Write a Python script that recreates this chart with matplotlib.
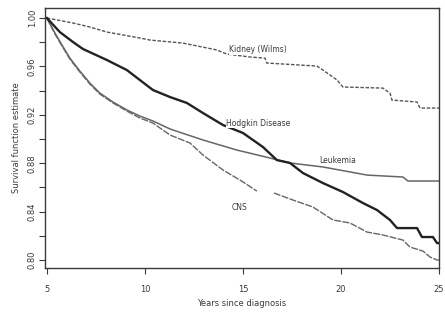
import numpy as np
import matplotlib.pyplot as plt

# survival curves (years since diagnosis, estimate)
kidney_x = [5.0, 6.33, 7.19, 8.06, 9.74, 10.26, 11.94, 13.67, 14.18, 15.36, 16.12, 16.22,
            18.78, 19.08, 19.80, 20.10, 22.14, 22.50, 22.60, 23.88, 24.03, 25.0]
kidney_y = [1.0, 0.9959, 0.9926, 0.9884, 0.9835, 0.9818, 0.9793, 0.9736, 0.9702, 0.9678, 0.9669, 0.9628,
            0.9603, 0.9570, 0.9488, 0.9430, 0.9421, 0.9380, 0.9322, 0.9306, 0.9256, 0.9256]

hodgkin_x = [5.0, 5.66, 6.33, 6.84, 8.06, 9.08, 9.74, 10.41, 11.28, 12.14, 12.96, 13.98, 15.0,
             16.02, 16.73, 17.40, 18.06, 19.08, 20.10, 21.12, 21.84, 22.50, 22.86, 23.88, 24.13,
             24.69, 24.90, 25.0]
hodgkin_y = [1.0, 0.9884, 0.9802, 0.9744, 0.9653, 0.9570, 0.9488, 0.9405, 0.9347, 0.9298, 0.9215,
             0.9116, 0.9050, 0.8934, 0.8826, 0.8802, 0.8719, 0.8636, 0.8562, 0.8471, 0.8413, 0.8331,
             0.8264, 0.8264, 0.8190, 0.8190, 0.8140, 0.8140]

leuk_x = [5.0, 5.41, 5.77, 6.17, 6.68, 7.19, 7.70, 8.37, 9.08, 9.74, 10.41, 11.28, 12.96, 14.69,
          16.38, 17.40, 19.08, 21.33, 23.16, 23.42, 25.0]
leuk_y = [1.0, 0.9876, 0.9777, 0.9669, 0.9562, 0.9463, 0.9380, 0.9306, 0.9240, 0.9190, 0.9149,
          0.9083, 0.8992, 0.8909, 0.8843, 0.8802, 0.8769, 0.8702, 0.8686, 0.8653, 0.8653]

cns_x = [5.0, 5.41, 5.77, 6.17, 6.68, 7.19, 7.70, 8.37, 9.08, 9.74, 10.41, 11.28, 12.30, 12.96,
         13.98, 14.85, 15.71, 16.1, 16.58, 17.55, 18.57, 19.59, 20.46, 21.33, 22.14, 23.16, 23.52,
         24.18, 24.54, 24.90, 25.0]
cns_y = [1.0, 0.9868, 0.9769, 0.9661, 0.9554, 0.9455, 0.9372, 0.9298, 0.9231, 0.9174, 0.9132,
         0.9033, 0.8967, 0.8868, 0.8744, 0.8661, 0.8570, np.nan, 0.8554, 0.8496, 0.8438, 0.8331,
         0.8306, 0.8231, 0.8207, 0.8165, 0.8107, 0.8074, 0.8025, 0.8000, 0.8000]

labels = ["Kidney (Wilms)", "Hodgkin Disease", "Leukemia", "CNS"]
label_x = [14.3, 14.15, 18.9, 14.4]
label_y = [0.9736, 0.913, 0.8826, 0.8438]

xticks = [5, 10, 15, 20, 25]
yticks = [0.80, 0.82, 0.84, 0.86, 0.88, 0.90, 0.92, 0.94, 0.96, 0.98, 1.00]
ytick_labels = ["0.80", "", "0.84", "", "0.88", "", "0.92", "", "0.96", "", "1.00"]

ink = "#3a3a3a"
fig = plt.figure(figsize=(4.45, 3.2), dpi=100)
ax = fig.add_axes([0.101, 0.1625, 0.8855, 0.8125])

ax.plot(kidney_x, kidney_y, color="#555555", lw=1.0, linestyle=(0, (2.5, 1.2)))
ax.plot(leuk_x, leuk_y, color="#666666", lw=1.1)
ax.plot(cns_x, cns_y, color="#666666", lw=1.0, linestyle=(0, (5, 1)))
ax.plot(hodgkin_x, hodgkin_y, color="#222222", lw=1.7)

for t, x, y in zip(labels, label_x, label_y):
    ax.text(x, y, t, fontsize=5.5, color=ink, va="center", ha="left",
            bbox=dict(facecolor="white", edgecolor="none", pad=0.3) if t != "CNS" else None)

ax.set_xlim(4.9, 25.0)
ax.set_ylim(0.7934, 1.0083)
ax.set_xticks(xticks)
ax.set_xticklabels([str(v) for v in xticks])
ax.set_yticks(yticks)
ax.set_yticklabels(ytick_labels, rotation=90, va="center")
ax.tick_params(axis="both", labelsize=6, colors=ink, length=4, width=0.8, direction="out")
ax.tick_params(axis="x", pad=8)
ax.tick_params(axis="y", pad=2)
for s in ax.spines.values():
    s.set_color(ink)
    s.set_linewidth(1.0)

ax.set_xlabel("Years since diagnosis", fontsize=6, color=ink, labelpad=4)
ax.set_ylabel("Survival function estimate", fontsize=6, color=ink, labelpad=5)

fig.savefig("out.png", dpi=100)
